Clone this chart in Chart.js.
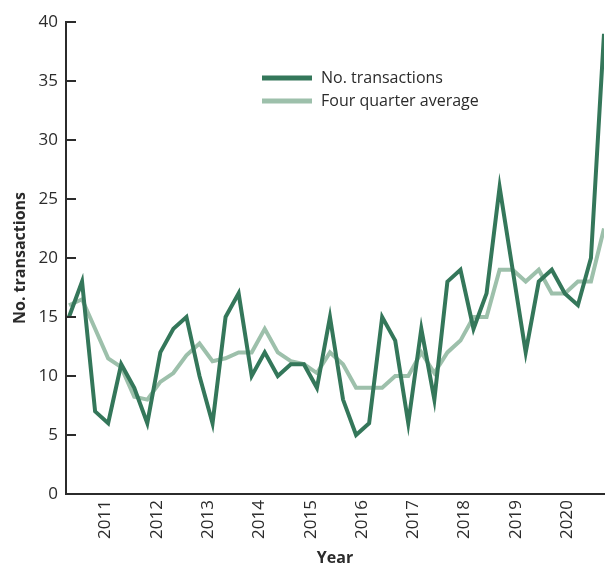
<!DOCTYPE html>
<html>
<head>
<meta charset="utf-8">
<script src="https://cdn.jsdelivr.net/npm/chart.js@4/dist/chart.umd.min.js"></script>
<style>
  body { margin: 0; background: #fff; }
  #wrap { width: 605px; height: 566px; }
</style>
</head>
<body>
<div id="wrap"><canvas id="trans"></canvas></div>
<script>
// quarterly counts, first quarter = index 0
var transactions = [15, 18, 7, 6, 11, 9, 6, 12, 14, 15, 10, 6, 15, 17, 10, 12, 10, 11, 11, 9,
    15, 8, 5, 6, 15, 13, 6, 14, 8, 18, 19, 14, 17, 26, 19, 12, 18, 19, 17, 16, 20, 39]
var fourQuarterAvg = [16, 16.5, 14, 11.5, 10.75, 8.25, 8, 9.5, 10.25, 11.75, 12.75, 11.25, 11.5, 12, 12, 14, 12, 11.25, 11, 10.25,
    12, 11, 9, 9, 9, 10, 10, 12, 10.25, 12, 13, 15, 15, 19, 19, 18, 19, 17, 17, 18, 18, 22.5]
var years = [2011, 2012, 2013, 2014, 2015, 2016, 2017, 2018, 2019, 2020]
var yTicks = [0, 5, 10, 15, 20, 25, 30, 35, 40]

var dark = '#34775a'
var light = '#9dc0ab'
var ink = '#2b2b2b'

var toPoints = function (arr) {
    var pts = []
    for (let i in arr) pts.push({ x: Number(i), y: arr[i] })
    return pts
}

// year label sits near the middle of its four quarters
var yearPos = function (i) { return 2.8 + i * 3.93 }

var innerTicks = {
    id: 'innerTicks',
    afterDraw(chart) {
        var ctx = chart.ctx
        var y = chart.scales.y
        ctx.save()
        ctx.strokeStyle = ink
        ctx.lineWidth = 2
        yTicks.forEach(function (v) {
            var py = Math.round(y.getPixelForValue(v))
            ctx.beginPath()
            ctx.moveTo(y.right - 1, py)
            ctx.lineTo(y.right + 10, py)
            ctx.stroke()
        })
        ctx.restore()
    }
}

var boxLegend = {
    id: 'boxLegend',
    afterDraw(chart) {
        var ctx = chart.ctx
        var a = chart.chartArea
        var x0 = a.left + 196
        var y0 = a.top + 56
        ctx.save()
        ctx.font = '16px "Open Sans"'
        ctx.textBaseline = 'middle'
        chart.data.datasets.forEach(function (ds, i) {
            var yy = y0 + i * 23
            ctx.strokeStyle = ds.borderColor
            ctx.lineWidth = 5
            ctx.beginPath()
            ctx.moveTo(x0, yy)
            ctx.lineTo(x0 + 50, yy)
            ctx.stroke()
            ctx.fillStyle = ink
            ctx.fillText(ds.label, x0 + 59, yy)
        })
        ctx.restore()
    }
}

new Chart('trans', {
    type: 'line',
    data: {
        datasets: [{
            label: 'No. transactions',
            data: toPoints(transactions),
            borderColor: dark,
            borderWidth: 4,
            pointRadius: 0,
            tension: 0,
            borderJoinStyle: 'miter',
            order: 0,
        }, {
            label: 'Four quarter average',
            data: toPoints(fourQuarterAvg),
            borderColor: light,
            borderWidth: 4,
            pointRadius: 0,
            tension: 0,
            borderJoinStyle: 'miter',
            order: 1,
        }]
    },
    options: {
        responsive: true,
        maintainAspectRatio: false,
        animation: false,
        layout: { padding: { top: 22, right: 1, left: 0, bottom: 0 } },
        plugins: {
            legend: { display: false },
            tooltip: { enabled: false },
        },
        scales: {
            x: {
                type: 'linear',
                min: -0.23,
                max: 41,
                afterBuildTicks: function (axis) {
                    axis.ticks = years.map(function (yr, i) { return { value: yearPos(i) } })
                },
                afterFit: function (axis) {
                    axis.height = 72
                    axis.paddingLeft = 0
                    axis.paddingRight = 0
                },
                ticks: {
                    autoSkip: false,
                    minRotation: 90,
                    maxRotation: 90,
                    padding: 6,
                    color: ink,
                    font: { family: 'Open Sans', size: 17 },
                    callback: function (v, i) { return String(years[i]) },
                },
                grid: { display: false, drawTicks: false },
                border: { display: true, color: ink, width: 2 },
                title: {
                    display: true,
                    text: 'Year',
                    color: ink,
                    font: { family: 'Open Sans', size: 16, weight: 'bold' },
                    padding: { top: 0, bottom: -2 },
                },
            },
            y: {
                min: 0,
                max: 40,
                afterBuildTicks: function (axis) {
                    axis.ticks = yTicks.map(function (v) { return { value: v } })
                },
                afterFit: function (axis) {
                    axis.width = 66
                    axis.paddingTop = 0
                    axis.paddingBottom = 0
                },
                ticks: {
                    padding: 8,
                    color: ink,
                    font: { family: 'Open Sans', size: 17 },
                },
                grid: { display: false, drawTicks: false },
                border: { display: true, color: ink, width: 2 },
                title: {
                    display: true,
                    text: 'No. transactions',
                    color: ink,
                    font: { family: 'Open Sans', size: 16, weight: 'bold' },
                    padding: { top: 11, bottom: 0 },
                },
            },
        },
    },
    plugins: [innerTicks, boxLegend]
})
</script>
</body>
</html>
